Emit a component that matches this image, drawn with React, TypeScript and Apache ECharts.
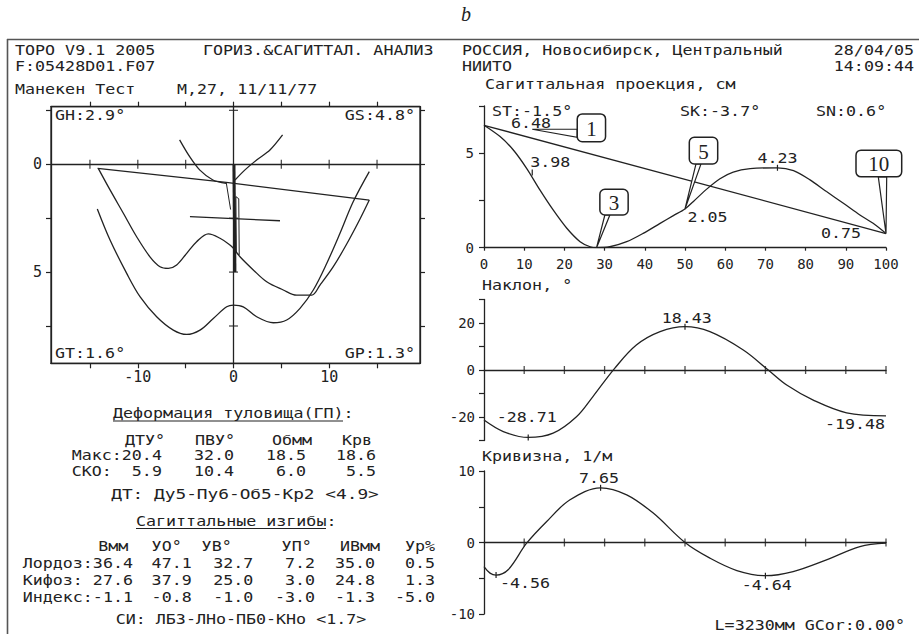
import React, { useEffect, useRef } from 'react';
import * as echarts from 'echarts';

// ---------- Left panel: horizontal / frontal projection (cm) ----------
const hTicksX = [-15, -10, -5, 0, 5, 10, 15];
const hLabelsX = [-10, 0, 10];
const hTicksY = [-2.5, 0, 2.5, 5, 7.5];
const hLabelsY = [0, 5];
const hLowerCurve = [[-14.23, 2.07], [-12.9, 3.51], [-11.16, 5.06], [-9.77, 6.14], [-8.03, 7.07], [-6.29, 7.69], [-4.89, 7.89], [-3.5, 7.69], [-2.11, 7.15], [-0.71, 6.61], [0, 6.53], [1.02, 6.61], [2.42, 7.07], [4.16, 7.35], [5.56, 7.22], [6.95, 6.68], [8.34, 5.83], [9.74, 4.6], [11.13, 3.2], [12.52, 1.73], [14.19, 0.34]];
const hMiddleCurve = [[-14.13, 0.19], [-12.9, 1.19], [-11.51, 2.27], [-10.12, 3.36], [-8.73, 4.29], [-7.68, 4.75], [-6.81, 4.83], [-5.94, 4.67], [-4.89, 4.13], [-3.85, 3.59], [-2.63, 3.23], [-1.41, 3.43], [-0.37, 3.74], [0, 3.9], [0.68, 4.29], [2.07, 4.9], [3.47, 5.45], [5.2, 5.83], [6.6, 6.07], [8.17, 6.07], [9.04, 5.6], [10.43, 4.75], [11.83, 3.7], [13.22, 2.54], [14.19, 1.66]];
const hUpperLeft = [[-5.63, -1.13], [-4.58, -0.35], [-3.54, 0.26], [-2.15, 0.73], [-0.76, 0.89]];
const hUpperRight = [[5.13, -1.36], [3.81, -0.66], [2.42, -0.2], [1.2, 0.26], [0.16, 0.73]];
const hTrunkLine = [[-14.2, 0.19], [-0.76, 0.84], [14.19, 1.66]];
const hCrossBar = [[-4.55, 2.43], [0, 2.52], [4.86, 2.62]];
const hSpine = [[0.05, 0], [0.15, 5.0]];
const hSpineOutline = [[0.25, 1.5], [0.55, 1.6], [0.6, 4.2], [0.3, 4.1], [0.25, 1.5]];
const hSpineThin = [[-0.76, 0.84], [-0.3, 2.1]];

// ---------- Right panels ----------
const xTicks100 = [10, 20, 30, 40, 50, 60, 70, 80, 90, 100];
const sagYLabels = [0, 5];
const sagChord = [[0, 6.48], [100, 0.75]];
const sagCurve = [[0, 6.48], [4, 5.88], [7.3, 5.17], [10.6, 4.2], [13.9, 3.06], [17.2, 2.0], [20.6, 1.03], [23.9, 0.32], [26.4, 0.05], [28, 0], [31.3, 0.05], [35.5, 0.32], [39.6, 0.76], [43.8, 1.29], [47.1, 1.7], [50, 2.05], [52.1, 2.45], [55.4, 3.1], [58.7, 3.65], [62, 4.0], [66.2, 4.18], [73, 4.23], [77, 4.08], [81.1, 3.59], [85.2, 2.97], [89.4, 2.35], [93.5, 1.73], [96.8, 1.29], [100, 0.75]];
const sagMarks = [[0, 6.48], [12, 3.98], [50, 2.05], [73, 4.23], [100, 0.75]];
const calloutNums = ['1', '3', '5', '10'];
const calloutAt = [[12, 6.27], [28, 0], [50, 2.05], [100, 0.75]];

const naklonYLabels = [-20, 0, 20];
const naklon = [[0, -21.3], [4.8, -26.2], [11, -28.71], [17.2, -26.9], [23, -19.9], [27.1, -11.3], [32.5, 0.7], [37.9, 10.6], [43.8, 16.3], [50, 18.43], [56.2, 16.3], [64.5, 8.5], [70.7, 0], [75.3, -6.4], [81.9, -12.8], [90.2, -18.2], [100, -19.48]];
const naklonMarks = [[11, -28.71], [50, 18.43], [100, -19.48]];

const krivYLabels = [-10, 0, 10];
const kriv = [[0, -3.36], [1.5, -4.28], [3, -4.56], [6, -3.82], [10.6, -0.1], [15.6, 2.94], [21.4, 5.97], [29, 7.65], [35.5, 6.67], [42.1, 4.11], [50, 0], [56.2, -2.19], [62.9, -3.92], [70, -4.64], [76.9, -4.06], [85.2, -2.42], [93.5, -0.56], [100, -0.1]];
const krivMarks = [[29, 7.65], [3, -4.56], [70, -4.64]];

// ---------- Tables ----------
const defCols = ['ДТУ°', 'ПВУ°', 'Обмм', 'Крв'];
const defMax = [20.4, 32.0, 18.5, 18.6];
const defSko = [5.9, 10.4, 6.0, 5.5];
const sagCols = ['Вмм', 'УО°', 'УВ°', 'УП°', 'ИВмм', 'Ур%'];
const sagRows = ['Лордоз:', 'Кифоз:', 'Индекс:'];
const lordoz = [36.4, 47.1, 32.7, 7.2, 35.0, 0.5];
const kifoz = [27.6, 37.9, 25.0, 3.0, 24.8, 1.3];
const indeks = [-1.1, -0.8, -1.0, -3.0, -1.3, -5.0];

const INK = '#222';
const SX = 1.19;
const FONT = '14px "DejaVu Sans Mono", monospace';

function txt(x: number, y: number, text: string, align: string = 'left', extra: any = {}) {
  return {
    type: 'text', x, y, scaleX: extra.scaleX ?? SX, silent: true, z: 10,
    style: {
      text, fill: INK, font: extra.font ?? FONT,
      textAlign: align, textVerticalAlign: 'middle', align, verticalAlign: 'middle',
    },
  };
}
function hline(x1: number, x2: number, y: number, w = 1.2, color = INK) {
  return { type: 'line', silent: true, z: 10, shape: { x1, y1: y, x2, y2: y }, style: { stroke: color, lineWidth: w } };
}

const axisBase = (extra: any) => ({
  type: 'value',
  splitLine: { show: false },
  axisLine: { show: true, onZero: false, lineStyle: { color: INK, width: 1.3 } },
  axisTick: { show: true, inside: false, length: 5, lineStyle: { color: INK, width: 1.2 } },
  axisLabel: { color: INK, fontFamily: 'DejaVu Sans Mono', fontSize: 14 },
  ...extra,
  axisLine: { show: true, onZero: false, lineStyle: { color: INK, width: 1.3 }, ...(extra.axisLine || {}) },
  axisTick: { show: true, inside: false, length: 5, lineStyle: { color: INK, width: 1.2 }, ...(extra.axisTick || {}) },
  axisLabel: { color: INK, fontFamily: 'DejaVu Sans Mono', fontSize: 14, ...(extra.axisLabel || {}) },
});

const lineS = (data: number[][], xi: number, smooth: any = false, width = 1.3) => ({
  type: 'line', data, xAxisIndex: xi, yAxisIndex: xi, smooth, symbol: 'none', showSymbol: false,
  silent: true, animation: false, lineStyle: { color: INK, width }, z: 3,
});

const tickScatter = (data: number[][], xi: number, size: number[]) => ({
  type: 'scatter', data, xAxisIndex: xi, yAxisIndex: xi, symbol: 'rect', symbolSize: size,
  itemStyle: { color: INK }, silent: true, clip: false, z: 4,
});

function markSeries(data: number[][], xi: number, offsets: number[][], ticks: boolean[]) {
  return {
    type: 'custom', data, xAxisIndex: xi, yAxisIndex: xi, silent: true, z: 6, clip: false,
    encode: { x: 0, y: 1 },
    renderItem: (params: any, api: any) => {
      const i = params.dataIndex;
      const v = api.value(1);
      const p = api.coord([api.value(0), v]);
      const [dx, dy] = offsets[i];
      const children: any[] = [{
        type: 'text', x: p[0] + dx, y: p[1] + dy, scaleX: SX,
        style: { text: Number(v).toFixed(2), fill: INK, font: FONT, textAlign: 'center', textVerticalAlign: 'middle', align: 'center', verticalAlign: 'middle' },
      }];
      if (ticks[i]) {
        children.push({ type: 'line', shape: { x1: p[0], y1: p[1] - 3, x2: p[0], y2: p[1] + 3 }, style: { stroke: INK, lineWidth: 1.2 } });
      }
      return { type: 'group', children };
    },
  };
}

// callout geometry relative to the tip: box [x0,x1,y0,y1], pointer base points
const calloutGeom = [
  { box: [45, 73.3, -15.3, 12.4], base: [[45, 0], [45, 8]] },
  { box: [3.3, 31.6, -58.4, -32.7], base: [[8.3, -32.7], [13.3, -32.7]] },
  { box: [4.3, 32.7, -71.7, -45], base: [[11, -45], [16, -45]] },
  { box: [-30, 15.7, -83.4, -56.7], base: [[-7.7, -56.7], [0.7, -56.7]] },
];

const calloutSeries = {
  type: 'custom', data: calloutAt, xAxisIndex: 2, yAxisIndex: 2, silent: true, z: 8, clip: false,
  encode: { x: 0, y: 1 },
  renderItem: (params: any, api: any) => {
    const i = params.dataIndex;
    const p = api.coord([api.value(0), api.value(1)]);
    const g = calloutGeom[i];
    const [x0, x1, y0, y1] = g.box;
    return {
      type: 'group',
      children: [
        { type: 'polygon', shape: { points: [[p[0] + g.base[0][0], p[1] + g.base[0][1]], [p[0], p[1]], [p[0] + g.base[1][0], p[1] + g.base[1][1]]] }, style: { fill: '#fff', stroke: INK, lineWidth: 1.2 } },
        { type: 'rect', shape: { x: p[0] + x0, y: p[1] + y0, width: x1 - x0, height: y1 - y0, r: 5 }, style: { fill: '#fff', stroke: INK, lineWidth: 1.5 } },
        { type: 'text', x: p[0] + (x0 + x1) / 2, y: p[1] + (y0 + y1) / 2 + 1, style: { text: calloutNums[i], fill: INK, font: '21px "Liberation Serif", serif', textAlign: 'center', textVerticalAlign: 'middle', align: 'center', verticalAlign: 'middle' } },
      ],
    };
  },
};

export default function App() {
  const ref = useRef<HTMLDivElement>(null);
  useEffect(() => {
    if (!ref.current) return;
    const chart = echarts.init(ref.current, null, { renderer: 'svg' });

    const hMin = -19.07, hMax = 19.49, vMin = -2.67, vMax = 9.23;
    const graphic: any[] = [
      // frame
      { type: 'line', silent: true, shape: { x1: 7, y1: 39.5, x2: 919, y2: 39.5 }, style: { stroke: '#555', lineWidth: 1.6 } },
      { type: 'line', silent: true, shape: { x1: 7.5, y1: 39, x2: 7.5, y2: 634 }, style: { stroke: '#555', lineWidth: 1.6 } },
      txt(466, 14, 'b', 'center', { font: 'italic 20px "Liberation Serif", serif', scaleX: 1 }),
      // header
      txt(15, 50, 'TOPO V9.1 2005'),
      txt(203, 50, 'ГОРИЗ.&САГИТТАЛ. АНАЛИЗ'),
      txt(15, 66.5, 'F:05428D01.F07'),
      txt(15, 89, 'Манекен Тест'),
      txt(177, 89, 'М,27, 11/11/77'),
      txt(462, 50, 'РОССИЯ, Новосибирск, Центральный'),
      txt(914, 50, '28/04/05', 'right'),
      txt(462, 66.5, 'НИИТО'),
      txt(914, 66.5, '14:09:44', 'right'),
      // left plot corner labels
      txt(55, 115, 'GH:2.9°'),
      txt(415, 115, 'GS:4.8°', 'right'),
      txt(55, 353, 'GT:1.6°'),
      txt(415, 353, 'GP:1.3°', 'right'),
      // right titles
      txt(485, 84, 'Сагиттальная проекция, см'),
      txt(492, 111.5, 'ST:-1.5°'),
      txt(680, 111.5, 'SK:-3.7°'),
      txt(816, 111.5, 'SN:0.6°'),
      txt(482, 285, 'Наклон, °'),
      txt(482, 456.5, 'Кривизна, 1/м'),
      txt(905, 625, 'L=3230мм GCor:0.00°', 'right'),
      // deformation table
      txt(113, 413.3, 'Деформация туловища(ГП):'),
      hline(113, 343, 421),
      ...defCols.map((c, i) => txt([165, 235, 312, 372][i], 440, c, 'right')),
      txt(71.7, 455.7, 'Макс:' + defMax[0].toFixed(1).padStart(4)),
      ...defMax.slice(1).map((v, i) => txt([234, 306, 376][i], 455.7, v.toFixed(1), 'right')),
      txt(71.7, 471.7, 'СКО:' + defSko[0].toFixed(1).padStart(5)),
      ...defSko.slice(1).map((v, i) => txt([234, 306, 376][i], 471.7, v.toFixed(1), 'right')),
      txt(245, 494, 'ДТ: Ду5-Пу6-Об5-Кр2 <4.9>', 'center', { scaleX: 1.27 }),
      // sagittal bends table
      txt(136, 521.7, 'Сагиттальные изгибы:'),
      hline(136, 326, 528.5),
      ...sagCols.map((c, i) => txt([128.3, 181.7, 231.7, 311.7, 380, 435][i], 546.7, c, 'right')),
      ...[lordoz, kifoz, indeks].flatMap((row, r) => [
        txt(22.7, [563.5, 580.5, 597][r], sagRows[r].padEnd(7) + row[0].toFixed(1).padStart(4)),
        ...row.slice(1).map((v, i) => txt([191.7, 253.3, 315, 375, 435][i], [563.5, 580.5, 597][r], v.toFixed(1), 'right')),
      ]),
      txt(241, 619.5, 'СИ: ЛБ3-ЛНо-ПБ0-КНо <1.7>', 'center'),
    ];

    const option: any = {
      animation: false,
      backgroundColor: '#fff',
      grid: [
        { left: 51, top: 106.7, width: 369, height: 256.6, show: true, borderColor: INK, borderWidth: 1.3, backgroundColor: 'transparent', outerBoundsMode: 'none', containLabel: false },
        { left: 484, top: 106, width: 402, height: 141.7, outerBoundsMode: 'none', containLabel: false },
        { left: 484, top: 299.5, width: 402, height: 141, outerBoundsMode: 'none', containLabel: false },
        { left: 484, top: 471, width: 402, height: 143, outerBoundsMode: 'none', containLabel: false },
      ],
      xAxis: [
        axisBase({ gridIndex: 0, min: hMin, max: hMax, position: 'bottom', axisTick: { customValues: hTicksX }, axisLabel: { customValues: hLabelsX, margin: 6, fontSize: 15 } }),
        axisBase({ gridIndex: 0, min: hMin, max: hMax, position: 'top', axisTick: { customValues: hTicksX }, axisLabel: { show: false } }),
        axisBase({ gridIndex: 1, min: 0, max: 100, interval: 10, position: 'bottom', axisTick: { length: 3 }, axisLabel: { margin: 9 } }),
        axisBase({ gridIndex: 2, min: 0, max: 100, interval: 10, axisLine: { onZero: true }, axisTick: { show: false }, axisLabel: { show: false } }),
        axisBase({ gridIndex: 3, min: 0, max: 100, interval: 10, axisLine: { onZero: true }, axisTick: { show: false }, axisLabel: { show: false } }),
      ],
      yAxis: [
        axisBase({ gridIndex: 0, min: vMin, max: vMax, inverse: true, position: 'left', axisTick: { customValues: hTicksY }, axisLabel: { customValues: hLabelsY, margin: 9, fontSize: 15 } }),
        axisBase({ gridIndex: 0, min: vMin, max: vMax, inverse: true, position: 'right', axisTick: { customValues: hTicksY }, axisLabel: { show: false } }),
        axisBase({ gridIndex: 1, min: 0, max: 7.5, interval: 2.5, position: 'left', axisLabel: { customValues: sagYLabels, margin: 10 } }),
        axisBase({ gridIndex: 2, min: -30, max: 30, interval: 10, position: 'left', axisLabel: { customValues: naklonYLabels, margin: 9 } }),
        axisBase({ gridIndex: 3, min: -10, max: 10, interval: 5, position: 'left', axisLabel: { customValues: krivYLabels, margin: 9 } }),
      ],
      series: [
        {
          ...lineS(hLowerCurve, 0, 0.35),
          markLine: {
            silent: true, symbol: ['none', 'none'], label: { show: false },
            lineStyle: { color: INK, width: 1.3, type: 'solid' },
            data: [{ xAxis: 0 }, { yAxis: 0 }],
          },
        },
        lineS(hMiddleCurve, 0, 0.35),
        lineS(hUpperLeft, 0, 0.3),
        lineS(hUpperRight, 0, 0.3),
        lineS(hTrunkLine, 0),
        lineS(hCrossBar, 0),
        lineS(hSpine, 0, false, 3),
        lineS(hSpineOutline, 0, false, 1),
        lineS(hSpineThin, 0, false, 1),
        tickScatter(hTicksX.filter(v => v !== 0).map(v => [v, 0]), 0, [1.3, 9]),
        tickScatter(hTicksY.filter(v => v !== 0).map(v => [0, v]), 0, [9, 1.3]),

        lineS(sagChord, 2),
        lineS(sagCurve, 2, 0.3),
        markSeries(sagMarks, 2, [[47, -2], [18, -10], [22.5, 8], [0, -9.5], [-45, -0.5]], [false, true, false, true, false]),
        calloutSeries,

        lineS(naklon, 3, 0.35),
        tickScatter(xTicks100.map(v => [v, 0]), 3, [1.3, 8]),
        markSeries(naklonMarks, 3, [[-1.5, -20], [1.7, -8.7], [-31, 9]], [true, true, false]),

        lineS(kriv, 4, 0.35),
        tickScatter(xTicks100.map(v => [v, 0]), 4, [1.3, 8]),
        markSeries(krivMarks, 4, [[-1.6, -9.4], [29, 8.6], [1.3, 10]], [true, true, true]),
      ],
      graphic,
    };
    chart.setOption(option);
    return () => chart.dispose();
  }, []);
  return <div ref={ref} style={{ position: 'fixed', left: 0, top: 0, width: 919, height: 634, background: '#fff' }} />;
}
